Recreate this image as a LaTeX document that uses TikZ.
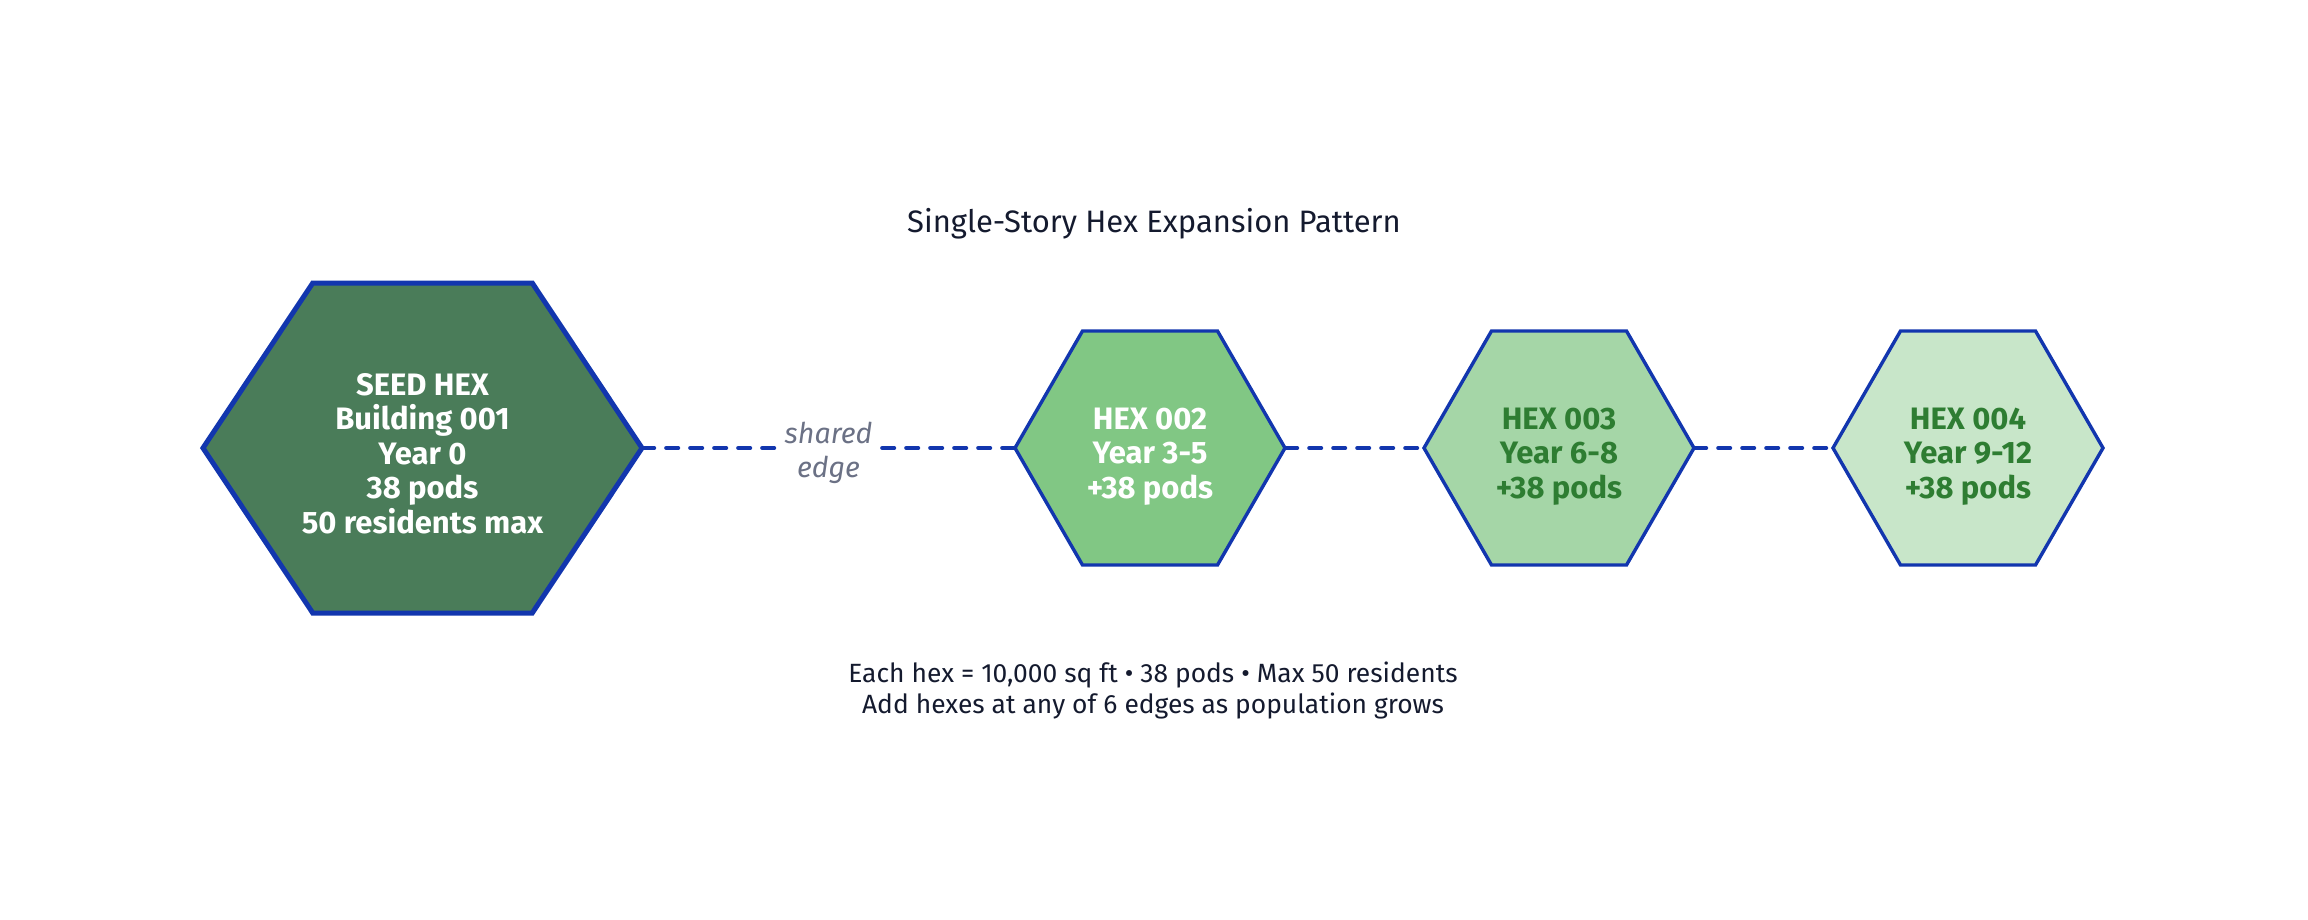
\documentclass[tikz,border=0pt]{standalone}
\usepackage{fontspec}
\setmainfont{Fira Sans}
\usetikzlibrary{positioning, calc, backgrounds}

\definecolor{hexblue}{HTML}{1236AE}
\definecolor{seedgreen}{HTML}{4A7C59}
\definecolor{midgreen}{HTML}{81C784}
\definecolor{palegreen}{HTML}{A5D6A7}
\definecolor{mintgreen}{HTML}{C8E6C9}
\definecolor{leafgreen}{HTML}{2E7D32}
\definecolor{slategray}{HTML}{6B7185}
\definecolor{inkblue}{HTML}{141A2E}

% flat-topped hexagon round the box of a node
\newcommand{\hexoutline}[2]{%
  \draw[#2] (#1.west) -- ($(#1.north west)!0.5!(#1.north)$)
    -- ($(#1.north)!0.5!(#1.north east)$) -- (#1.east)
    -- ($(#1.south east)!0.5!(#1.south)$)
    -- ($(#1.south)!0.5!(#1.south west)$) -- cycle;}

\begin{document}
\begin{tikzpicture}
    [
        x=0.5pt, y=-0.5pt,
        hexbox/.style = {rectangle, inner sep=0pt, outer sep=0pt},
        seedhex/.style = {hexbox, minimum width=219.5pt, minimum height=165pt},
        smallhex/.style = {hexbox, minimum width=135pt, minimum height=117pt},
        hextext/.style = {align=center, inner sep=0pt, text depth=0pt,
                          font=\bfseries\fontsize{15.5}{17.25}\selectfont},
        seedline/.style = {draw=hexblue, line width=2.5pt, line join=miter},
        hexline/.style = {draw=hexblue, line width=1.7pt, line join=miter},
        shareline/.style = {draw=hexblue, line width=1.8pt, line cap=round,
                            dash pattern=on 6.2pt off 5.8pt},
        edgelabel/.style = {fill=white, inner xsep=3.5pt, inner ysep=0pt, align=center,
                            yshift=-2.5pt, text=slategray,
                            font=\itshape\fontsize{14.3}{17}\selectfont},
        plaintext/.style = {align=center, text=inkblue}
    ]
    \useasboundingbox (0,0) rectangle (2308,920);

    \node [plaintext, font=\fontsize{15.5}{18}\selectfont] (title) at (1154,224)
        {Single-Story Hex Expansion Pattern};

    \node [seedhex] (seed) at (422.5,448) {};
    \node [smallhex, right=186.5pt of seed] (hex2) {};
    \node [smallhex, right=69.5pt of hex2] (hex3) {};
    \node [smallhex, right=69.5pt of hex3] (hex4) {};

    \begin{scope}[on background layer]
        \hexoutline{seed}{seedline, fill=seedgreen}
        \hexoutline{hex2}{hexline, fill=midgreen}
        \hexoutline{hex3}{hexline, fill=palegreen}
        \hexoutline{hex4}{hexline, fill=mintgreen}
    \end{scope}

    \node [hextext, text=white] (seedtext) at ([yshift=-2.5pt]seed.center)
        {SEED HEX\\Building 001\\Year 0\\38 pods\\50 residents max};
    \node [hextext, text=white] (hex2text) at ([yshift=-2.5pt]hex2.center)
        {HEX 002\\Year 3-5\\+38 pods};
    \node [hextext, text=leafgreen] (hex3text) at ([yshift=-2.5pt]hex3.center)
        {HEX 003\\Year 6-8\\+38 pods};
    \node [hextext, text=leafgreen] (hex4text) at ([yshift=-2.5pt]hex4.center)
        {HEX 004\\Year 9-12\\+38 pods};

    \draw [shareline] (seed.east) -- node[edgelabel] {shared\\edge} (hex2.west);
    \draw [shareline] (hex2.east) -- (hex3.west);
    \draw [shareline] (hex3.east) -- (hex4.west);

    \node [plaintext, font=\fontsize{13.2}{15.5}\selectfont] (note) at (1153,691)
        {Each hex = 10,000 sq ft • 38 pods • Max 50 residents\\
         Add hexes at any of 6 edges as population grows};

\end{tikzpicture}
\end{document}
